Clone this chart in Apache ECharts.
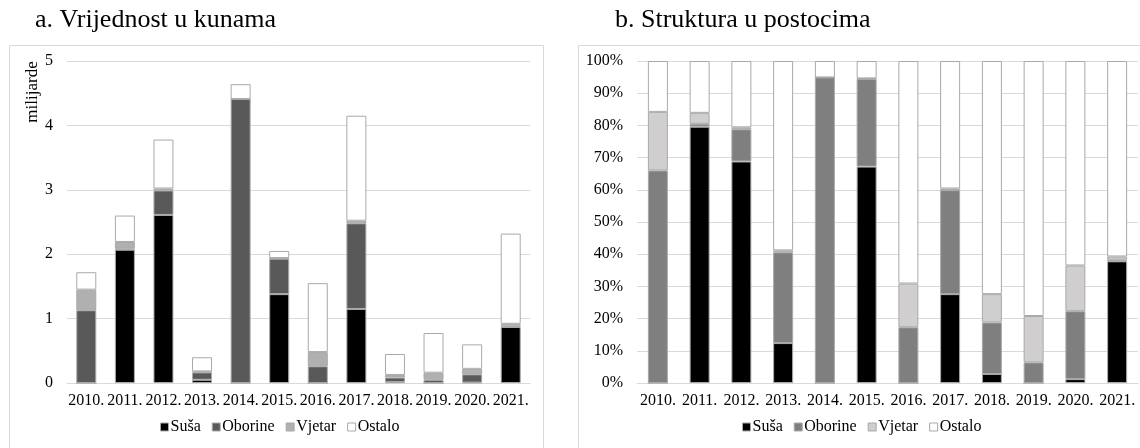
<!DOCTYPE html>
<html>
<head>
<meta charset="utf-8">
<script src="https://cdn.jsdelivr.net/npm/echarts@6/dist/echarts.min.js"></script>
<style>
html,body{margin:0;padding:0;background:#fff;width:1140px;height:448px;overflow:hidden;}
#a{position:absolute;left:0;top:0;width:560px;height:448px;}
#b{position:absolute;left:560px;top:0;width:580px;height:448px;}
</style>
</head>
<body>
<div id="a"></div>
<div id="b"></div>
<script>
var categories = ['2010.','2011.','2012.','2013.','2014.','2015.','2016.','2017.','2018.','2019.','2020.','2021.'];
var seriesNames = ['Suša','Oborine','Vjetar','Ostalo'];

// a. value in billions of kuna
var susa    = [0, 2.07, 2.61, 0.05, 0, 1.38, 0, 1.15, 0.013, 0, 0.007, 0.87];
var oborine = [1.13, 0.02, 0.38, 0.115, 4.41, 0.55, 0.26, 1.33, 0.072, 0.05, 0.128, 0.02];
var vjetar  = [0.32, 0.10, 0.03, 0.015, 0, 0.01, 0.22, 0.04, 0.04, 0.11, 0.085, 0.03];
var ostalo  = [0.27, 0.41, 0.76, 0.22, 0.23, 0.11, 1.07, 1.63, 0.325, 0.616, 0.38, 1.40];

// b. structure in percent
var susaPct    = [0, 79.6, 68.8, 12.4, 0, 67.2, 0, 27.6, 2.8, 0, 1.2, 37.8];
var oborinePct = [66.0, 0.9, 10.0, 28.2, 94.9, 27.2, 17.3, 32.3, 16.0, 6.4, 21.1, 0.5];
var vjetarPct  = [18.2, 3.4, 0.6, 0.6, 0, 0.2, 13.6, 0.5, 8.8, 14.4, 14.2, 1.0];
var ostaloPct  = [15.8, 16.1, 20.6, 58.8, 5.1, 5.4, 69.1, 39.6, 72.4, 79.2, 63.5, 60.7];

var leftTicks = [0, 1, 2, 3, 4, 5];

var FONT = "'Liberation Serif', 'Times New Roman', serif";
var colorsA = ['#000000', '#595959', '#b0b0b0', '#ffffff'];
var colorsB = ['#000000', '#7f7f7f', '#d0cece', '#ffffff'];
var BORDER = '#a9a9a9';

function makeSeries(arrs, colors) {
  return arrs.map(function (d, i) {
    return {
      name: seriesNames[i],
      type: 'bar',
      stack: 's',
      data: d,
      barWidth: 20,
      itemStyle: { color: colors[i], borderColor: BORDER, borderWidth: 1 },
      emphasis: { disabled: true },
      animation: false
    };
  });
}

function baseOption(title, titleLeft, panel, grid, legendLeft, colors) {
  return {
    animation: false,
    title: {
      text: title, left: titleLeft, top: 2,
      textStyle: { fontFamily: FONT, fontSize: 26, fontWeight: 'normal', color: '#000' }
    },
    graphic: [{
      type: 'rect', z: -10, silent: true,
      shape: panel,
      style: { fill: '#fff', stroke: '#d9d9d9', lineWidth: 1 }
    }],
    grid: grid,
    legend: {
      data: seriesNames.map(function (n, i) {
        return { name: n, itemStyle: { color: colors[i], borderColor: BORDER, borderWidth: 1 } };
      }),
      left: legendLeft, top: 414,
      itemWidth: 8, itemHeight: 8, itemGap: 11,
      icon: 'rect',
      selectedMode: false,
      textStyle: { fontFamily: FONT, fontSize: 16, color: '#000', padding: [0, 0, 0, -3] }
    },
    xAxis: {
      type: 'category', data: categories,
      axisLine: { lineStyle: { color: '#d9d9d9' } },
      axisTick: { show: false },
      axisLabel: { fontFamily: FONT, fontSize: 16, color: '#000', margin: 10, interval: 0 }
    }
  };
}

var chartA = echarts.init(document.getElementById('a'), null, { renderer: 'canvas' });
var optA = baseOption('a. Vrijednost u kunama', 30,
  { x: 9.5, y: 45.5, width: 534, height: 420 },
  { left: 67, top: 61, width: 463, height: 322 }, 155, colorsA);
optA.graphic.push({
  type: 'text', silent: true, rotation: Math.PI / 2,
  x: 33, y: 92,
  style: { text: 'milijarde', font: '17px ' + FONT, fill: '#000', textAlign: 'center', textVerticalAlign: 'middle' }
});
optA.yAxis = {
  type: 'value', min: leftTicks[0], max: leftTicks[leftTicks.length - 1], interval: 1,
  axisLine: { show: false }, axisTick: { show: false },
  splitLine: { lineStyle: { color: '#d9d9d9' } },
  axisLabel: { fontFamily: FONT, fontSize: 16, color: '#000', margin: 14 }
};
optA.series = makeSeries([susa, oborine, vjetar, ostalo], colorsA);
chartA.setOption(optA);

var chartB = echarts.init(document.getElementById('b'), null, { renderer: 'canvas' });
var optB = baseOption('b. Struktura u postocima', 50,
  { x: 18.5, y: 45.5, width: 600, height: 420 },
  { left: 77, top: 61, width: 501, height: 322 }, 177, colorsB);
optB.yAxis = {
  type: 'value', min: 0, max: 100, interval: 10,
  axisLine: { show: false }, axisTick: { show: false },
  splitLine: { lineStyle: { color: '#d9d9d9' } },
  axisLabel: { fontFamily: FONT, fontSize: 16, color: '#000', margin: 14, formatter: '{value}%' }
};
optB.series = makeSeries([susaPct, oborinePct, vjetarPct, ostaloPct], colorsB);
chartB.setOption(optB);
</script>
</body>
</html>
